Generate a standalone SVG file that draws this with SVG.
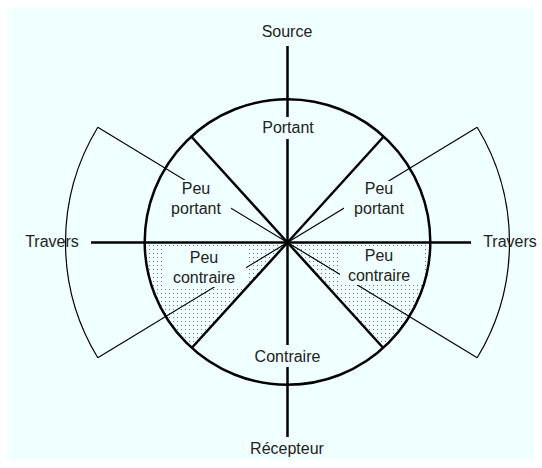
<svg xmlns="http://www.w3.org/2000/svg" width="542" height="468" viewBox="0 0 542 468">
<defs>
<pattern id="dots" patternUnits="userSpaceOnUse" width="4" height="4">
<rect x="1" y="1" width="1" height="1" fill="#777"/>
</pattern>
<style>
.thick{stroke:#000;stroke-width:2.5;fill:none}
.thin{stroke:#000;stroke-width:1.2;fill:none}
.lbl{font-family:"Liberation Sans",Arial,sans-serif;font-size:16px;fill:#222;text-anchor:middle}
.bg{fill:#f0ffff}
</style>
</defs>
<rect width="542" height="468" fill="#ffffff"/>
<rect x="8" y="8" width="526" height="452" fill="#f0ffff"/>
<g id="shading">
<path d="M287.5,242.5 L144.5,242.5 A143,143 0 0 0 191.7,348 Z" fill="url(#dots)"/>
<path d="M287.5,242.5 L430.5,242.5 A143,143 0 0 1 383.3,348 Z" fill="url(#dots)"/>
</g>
<g id="connectors">
<path class="thin" d="M97.8,127.2 A222,222 0 0 0 97.8,357.8"/>
<path class="thin" d="M477.2,127.2 A222,222 0 0 1 477.2,357.8"/>
<line class="thin" x1="97.8" y1="127.2" x2="287.5" y2="242.5"/>
<line class="thin" x1="97.8" y1="357.8" x2="287.5" y2="242.5"/>
<line class="thin" x1="477.2" y1="127.2" x2="287.5" y2="242.5"/>
<line class="thin" x1="477.2" y1="357.8" x2="287.5" y2="242.5"/>
<line class="thick" x1="287.5" y1="46" x2="287.5" y2="437"/>
<line class="thick" x1="91" y1="242.5" x2="471" y2="242.5"/>
</g>
<g id="label-bgs">
<rect class="bg" x="168" y="180" width="63" height="39"/>
<rect class="bg" x="344" y="181" width="65" height="38"/>
<rect class="bg" x="164" y="247" width="82" height="40"/>
<rect class="bg" x="340" y="246" width="83" height="39"/>
<rect class="bg" x="258" y="117" width="60" height="22"/>
<rect class="bg" x="252" y="345" width="71" height="22"/>
</g>
<g id="wheel">
<circle class="thick" cx="287.5" cy="242" r="142.8"/>
<line class="thick" x1="287.5" y1="242.5" x2="191.7" y2="137"/>
<line class="thick" x1="287.5" y1="242.5" x2="383.3" y2="137"/>
<line class="thick" x1="287.5" y1="242.5" x2="191.7" y2="348"/>
<line class="thick" x1="287.5" y1="242.5" x2="383.3" y2="348"/>
</g>
<g id="source"><text class="lbl" x="287" y="36.5">Source</text></g>
<g id="recepteur"><text class="lbl" x="287" y="454">Récepteur</text></g>
<g id="travers-left"><text class="lbl" x="52" y="247">Travers</text></g>
<g id="travers-right"><text class="lbl" x="510" y="247">Travers</text></g>
<g id="portant"><text class="lbl" x="288" y="133">Portant</text></g>
<g id="contraire"><text class="lbl" x="287.5" y="362">Contraire</text></g>
<g id="peu-portant-left"><text class="lbl" x="196" y="194">Peu</text><text class="lbl" x="196" y="213.5">portant</text></g>
<g id="peu-portant-right"><text class="lbl" x="379" y="194">Peu</text><text class="lbl" x="379" y="213.5">portant</text></g>
<g id="peu-contraire-left"><text class="lbl" x="204" y="263">Peu</text><text class="lbl" x="204" y="282.5">contraire</text></g>
<g id="peu-contraire-right"><text class="lbl" x="379" y="261">Peu</text><text class="lbl" x="379" y="280.5">contraire</text></g>
</svg>
